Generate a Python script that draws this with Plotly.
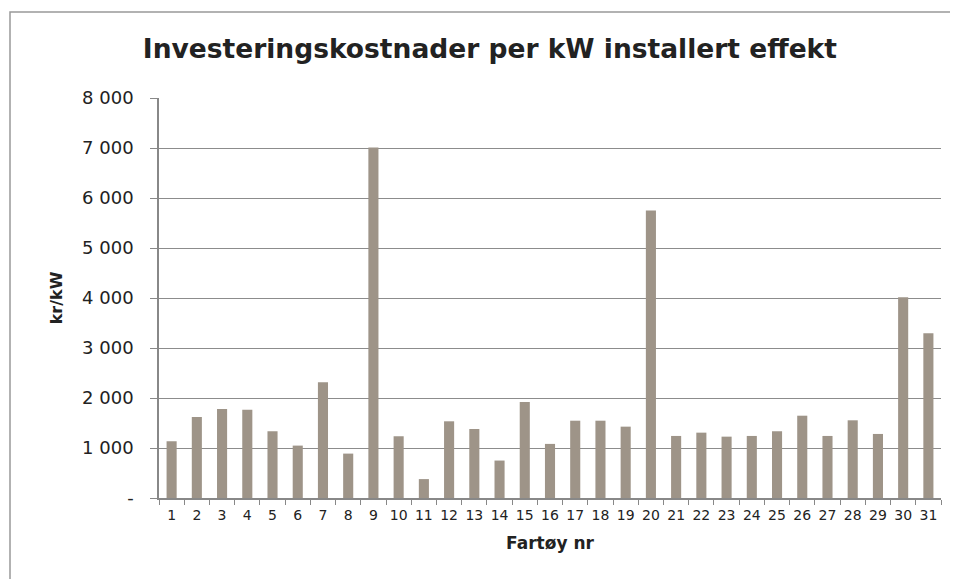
import plotly.graph_objects as go

vessels = [str(i) for i in range(1, 32)]
cost_per_kw = [1135, 1620, 1779, 1765, 1335, 1048, 2317, 888, 7010, 1235,
               378, 1534, 1380, 749, 1918, 1082, 1546, 1546, 1427, 5750,
               1241, 1307, 1227, 1241, 1335, 1646, 1241, 1554, 1281, 4015, 3293]
y_ticks = [0, 1000, 2000, 3000, 4000, 5000, 6000, 7000, 8000]
y_tick_labels = ["-", "1 000", "2 000", "3 000", "4 000", "5 000", "6 000", "7 000", "8 000"]

L, R, T, B = 151, 25, 90, 89
W, H = 958, 579
pw, ph = W - L - R, H - T - B

fig = go.Figure(go.Bar(x=vessels, y=cost_per_kw, marker=dict(color="#9e9488", line=dict(width=0))))

fig.update_layout(
    width=W, height=H,
    margin=dict(l=L, r=R, t=T, b=B),
    paper_bgcolor="white", plot_bgcolor="white",
    bargap=0.6,
    font=dict(family="DejaVu Sans", color="#222222"),
    title=dict(text="<b>Investeringskostnader per kW installert effekt</b>",
               x=0.503, xanchor="center", y=1 - 41 / H, yanchor="middle",
               font=dict(size=26.5, family="DejaVu Sans", color="#222222")),
    showlegend=False,
    shapes=[dict(type="rect", xref="paper", yref="paper",
                 x0=(2 - L) / pw, x1=1.2,
                 y0=-0.4, y1=1 + (T - 4) / ph,
                 line=dict(color="#999999", width=1.5))],
)
fig.update_xaxes(
    type="category", tickson="boundaries", ticks="outside", ticklen=5, tickcolor="#888888",
    tickangle=0, ticklabelstandoff=3,
    showline=True, linecolor="#888888", linewidth=1.5,
    tickfont=dict(size=14, color="#222222"),
    title=dict(text="<b>Fartøy nr</b>", font=dict(size=17), standoff=16),
)
fig.update_yaxes(
    range=[0, 8000], tickvals=y_ticks, ticktext=y_tick_labels,
    ticks="outside", ticklen=7, tickcolor="#888888", ticklabelstandoff=13,
    showline=True, linecolor="#888888", linewidth=1.5,
    showgrid=True, gridcolor="#8c8c8c", gridwidth=1,
    tickfont=dict(size=18, color="#222222"),
    title=dict(text="<b>kr/kW</b>", font=dict(size=16), standoff=16),
)

fig.write_html("out.html")
